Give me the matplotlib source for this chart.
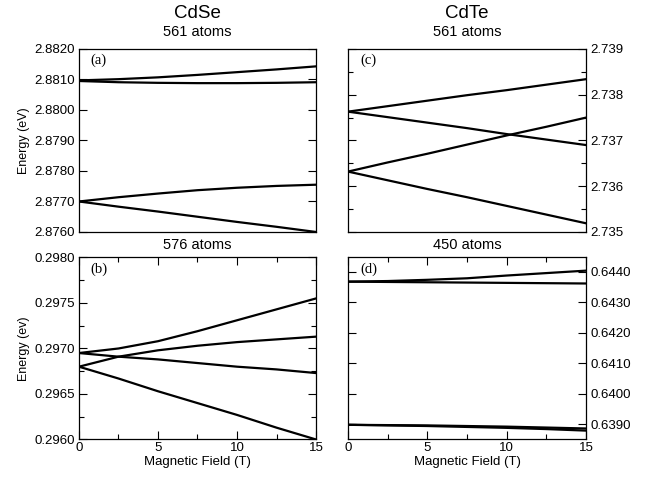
import matplotlib
matplotlib.use("Agg")
import matplotlib.pyplot as plt
from matplotlib.ticker import MultipleLocator, FormatStrFormatter, NullLocator

plt.rcParams['font.family'] = ['Liberation Sans', 'DejaVu Sans']

field = [0, 2.5, 5, 7.5, 10, 12.5, 15]

# (a) CdSe 561 atoms
a_lines = [
    [2.88097, 2.88101, 2.88107, 2.88115, 2.88124, 2.88133, 2.88143],
    [2.88095, 2.88091, 2.88089, 2.88088, 2.88088, 2.88089, 2.88091],
    [2.87700, 2.87714, 2.87726, 2.87737, 2.87745, 2.87751, 2.87755],
    [2.87700, 2.87683, 2.87667, 2.87650, 2.87633, 2.87617, 2.87600],
]
# (b) CdSe 576 atoms
b_lines = [
    [0.29695, 0.29700, 0.29708, 0.29719, 0.29731, 0.29743, 0.29755],
    [0.29680, 0.29691, 0.29698, 0.29703, 0.29707, 0.29710, 0.29713],
    [0.29695, 0.29691, 0.29688, 0.29684, 0.29680, 0.29677, 0.29673],
    [0.29680, 0.29667, 0.29653, 0.29640, 0.29627, 0.29613, 0.29600],
]
# (c) CdTe 561 atoms
c_lines = [
    [2.73763, 2.73775, 2.73787, 2.73799, 2.73810, 2.73822, 2.73834],
    [2.73763, 2.73751, 2.73739, 2.73727, 2.73714, 2.73702, 2.73690],
    [2.73632, 2.73652, 2.73671, 2.73691, 2.73711, 2.73730, 2.73750],
    [2.73632, 2.73613, 2.73594, 2.73576, 2.73557, 2.73538, 2.73519],
]
# (d) CdTe 450 atoms
d_lines = [
    [0.64367, 0.64369, 0.64373, 0.64378, 0.64387, 0.64395, 0.64403],
    [0.64367, 0.64366, 0.64365, 0.64364, 0.64363, 0.64362, 0.64361],
    [0.63899, 0.63898, 0.63897, 0.63895, 0.63893, 0.63890, 0.63887],
    [0.63899, 0.63897, 0.63895, 0.63892, 0.63889, 0.63885, 0.63880],
]

fig = plt.figure(figsize=(6.57, 4.83), dpi=100)

ax_a = fig.add_axes([0.1202, 0.5197, 0.3608, 0.3789])
ax_b = fig.add_axes([0.1202, 0.0901, 0.3608, 0.3768])
ax_c = fig.add_axes([0.5297, 0.5197, 0.3623, 0.3789])
ax_d = fig.add_axes([0.5297, 0.0901, 0.3623, 0.3768])

specs = [
    (ax_a, a_lines, (2.8760, 2.8820), 0.001, None, '%.4f', '(a)', False, True),
    (ax_b, b_lines, (0.2960, 0.2980), 0.0005, 0.00025, '%.4f', '(b)', True, True),
    (ax_c, c_lines, (2.735, 2.739), 0.001, 0.0005, '%.3f', '(c)', False, False),
    (ax_d, d_lines, (0.63851, 0.64446), 0.001, None, '%.4f', '(d)', True, False),
]

for ax, lines, ylim, major, minor, fmt, lab, bottom, left in specs:
    for ys in lines:
        ax.plot(field, ys, color='black', lw=1.6, solid_joinstyle='round')
    ax.set_xlim(0, 15)
    ax.set_ylim(*ylim)
    ax.yaxis.set_major_locator(MultipleLocator(major))
    if minor:
        ax.yaxis.set_minor_locator(MultipleLocator(minor))
    else:
        ax.yaxis.set_minor_locator(NullLocator())
    ax.yaxis.set_major_formatter(FormatStrFormatter(fmt))
    for sp in ax.spines.values():
        sp.set_linewidth(0.9)
    ax.tick_params(axis='y', which='both', direction='in', left=True, right=True,
                   labelleft=left, labelright=not left, labelsize=9.5, width=0.8, pad=3)
    ax.tick_params(axis='y', which='major', length=6)
    ax.tick_params(axis='y', which='minor', length=3.5)
    if bottom:
        ax.xaxis.set_major_locator(MultipleLocator(5))
        ax.xaxis.set_minor_locator(MultipleLocator(2.5))
        ax.tick_params(axis='x', which='both', direction='in', top=True, bottom=True,
                       labelsize=9.5, width=0.8, pad=2)
        ax.tick_params(axis='x', which='major', length=6)
        ax.tick_params(axis='x', which='minor', length=3.5)
        ax.set_xlabel('Magnetic Field (T)', fontsize=9.5, labelpad=1.5)
    else:
        ax.tick_params(axis='x', which='both', bottom=False, top=False, labelbottom=False)
    ax.text(0.05, 0.975, lab, transform=ax.transAxes, ha='left', va='top',
            fontsize=10.5, family=['Liberation Serif', 'DejaVu Serif'])

ax_a.set_ylabel('Energy (eV)', fontsize=9, labelpad=3)
ax_b.set_ylabel('Energy (ev)', fontsize=9, labelpad=3)

fig.text(0.3006, 0.973, 'CdSe', ha='center', va='center', fontsize=13.5)
fig.text(0.711, 0.973, 'CdTe', ha='center', va='center', fontsize=13.5)
fig.text(0.3006, 0.934, '561 atoms', ha='center', va='center', fontsize=10.5)
fig.text(0.711, 0.934, '561 atoms', ha='center', va='center', fontsize=10.5)
fig.text(0.3006, 0.493, '576 atoms', ha='center', va='center', fontsize=10.5)
fig.text(0.711, 0.493, '450 atoms', ha='center', va='center', fontsize=10.5)

fig.savefig('out.png', dpi=100)
